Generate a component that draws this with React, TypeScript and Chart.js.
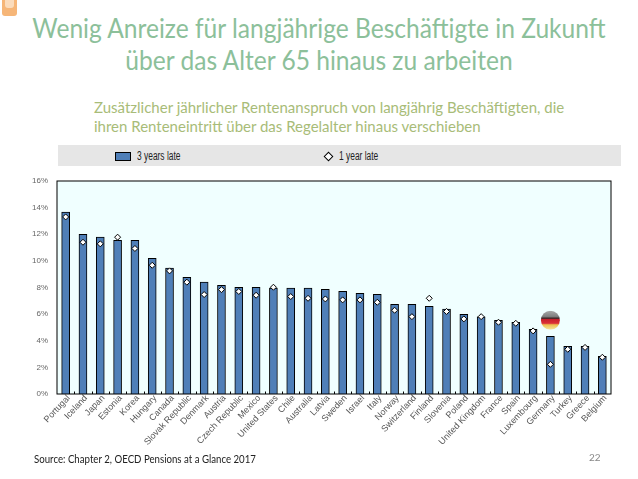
import { useEffect, useRef } from "react";
import Chart from "chart.js/auto";

const countries = [
  "Portugal", "Iceland", "Japan", "Estonia", "Korea", "Hungary", "Canada", "Slovak Republic",
  "Denmark", "Austria", "Czech Republic", "Mexico", "United States", "Chile", "Australia", "Latvia",
  "Sweden", "Israel", "Italy", "Norway", "Switzerland", "Finland", "Slovenia", "Poland",
  "United Kingdom", "France", "Spain", "Luxembourg", "Germany", "Turkey", "Greece", "Belgium",
];
const threeYearsLate = [
  13.66, 12.0, 11.78, 11.55, 11.55, 10.2, 9.45, 8.77,
  8.4, 8.17, 8.02, 8.02, 7.95, 7.95, 7.95, 7.87,
  7.72, 7.57, 7.49, 6.74, 6.74, 6.59, 6.37, 5.99,
  5.79, 5.54, 5.39, 4.86, 4.34, 3.58, 3.58, 2.83,
];
const oneYearLate = [
  13.3, 11.4, 11.28, 11.78, 10.93, 9.67, 9.25, 8.4,
  7.47, 7.84, 7.7, 7.42, 8.02, 7.32, 7.19, 7.14,
  7.07, 7.07, 6.89, 6.29, 5.81, 7.19, 6.2, 5.64,
  5.81, 5.39, 5.31, 4.74, 2.23, 3.36, 3.5, 2.76,
];
const flagCountry = "Germany";
const flagValue = 5.54;

const arial = '"Liberation Sans", sans-serif';
const lato = "Lato, sans-serif";

// small ticks between the categories, a border round the plot and the flag
const extras = {
  id: "extras",
  beforeDatasetsDraw(chart: any) {
    const { ctx, chartArea: a, scales } = chart;
    ctx.save();
    ctx.fillStyle = "#f0ffff";
    ctx.fillRect(a.left, a.top, a.width, a.height);
    const step = a.width / countries.length;
    ctx.strokeStyle = "#000";
    ctx.lineWidth = 1;
    for (let i = 1; i < countries.length; i++) {
      const x = Math.round(scales.x.getPixelForValue(i) - step / 2) + 0.5;
      ctx.beginPath();
      ctx.moveTo(x, a.bottom);
      ctx.lineTo(x, a.bottom - 2.5);
      ctx.stroke();
    }
    ctx.restore();
  },
  afterDatasetsDraw(chart: any) {
    const { ctx, chartArea: a, scales } = chart;
    ctx.save();
    ctx.strokeStyle = "#000";
    ctx.lineWidth = 1;
    ctx.strokeRect(a.left, a.top, a.width, a.height);

    const fx = scales.x.getPixelForValue(countries.indexOf(flagCountry));
    const fy = scales.y.getPixelForValue(flagValue);
    const r = 9.5;
    ctx.beginPath();
    ctx.arc(fx, fy, r, 0, Math.PI * 2);
    ctx.clip();
    const grad = ctx.createLinearGradient(0, fy - r, 0, fy + r);
    grad.addColorStop(0, "#a8a8a8");
    grad.addColorStop(0.3, "#808080");
    grad.addColorStop(0.4, "#3a2a2a");
    grad.addColorStop(0.46, "#c8202c");
    grad.addColorStop(0.66, "#dc3038");
    grad.addColorStop(0.74, "#ecc050");
    grad.addColorStop(1, "#f6e6a0");
    ctx.fillStyle = grad;
    ctx.fillRect(fx - r, fy - r, r * 2, r * 2);
    ctx.restore();
  },
};

function ChartBox() {
  const chartRef = useRef<HTMLCanvasElement>(null);

  useEffect(() => {
    if (!chartRef.current) return;
    const chart = new Chart(chartRef.current, {
      type: "bar",
      data: {
        labels: countries,
        datasets: [
          {
            type: "line",
            label: "1 year late",
            data: oneYearLate,
            showLine: false,
            pointStyle: "rectRot",
            pointRadius: 3,
            pointBackgroundColor: "#fff",
            pointBorderColor: "#000",
            pointBorderWidth: 1,
            order: 0,
          },
          {
            type: "bar",
            label: "3 years late",
            data: threeYearsLate,
            backgroundColor: "#4f7fb8",
            borderColor: "#000",
            borderWidth: 1,
            barThickness: 8,
            order: 1,
          },
        ],
      } as any,
      options: {
        responsive: false,
        animation: false,
        layout: { padding: { left: 0, top: 181, right: 27, bottom: 0 } },
        plugins: { legend: { display: false }, tooltip: { enabled: false } },
        scales: {
          x: {
            offset: true,
            grid: { display: false, drawTicks: false },
            border: { display: false },
            afterFit: (s: any) => { s.height = 85; },
            ticks: {
              autoSkip: false,
              minRotation: 47,
              maxRotation: 47,
              padding: -1,
              labelOffset: 3,
              color: "#555",
              font: { family: arial, size: 9 },
            },
          },
          y: {
            min: 0,
            max: 16,
            grid: { display: false, drawTicks: false },
            border: { display: false },
            afterFit: (s: any) => { s.width = 57; },
            ticks: {
              stepSize: 2,
              padding: 9,
              color: "#666",
              font: { family: arial, size: 8 },
              callback: (v: any) => `${v}%`,
            },
          },
        },
      },
      plugins: [extras],
    });
    return () => chart.destroy();
  }, []);

  return <canvas ref={chartRef} width={638} height={479} style={{ position: "absolute", left: 0, top: 0 }} />;
}

const abs = (left: number, top: number, extra: object = {}) => ({ position: "absolute" as const, left, top, whiteSpace: "nowrap" as const, ...extra });
const squeezed = (k: number) => ({ transform: `scaleX(${k})`, transformOrigin: "left center" });

export default function App() {
  useEffect(() => {
    document.body.style.margin = "0";
  }, []);

  return (
    <div style={{ position: "relative", width: 638, height: 479, overflow: "hidden", background: "#fff" }}>
      <div style={abs(0, 12, { width: 638, textAlign: "center", color: "#8cc09a", fontFamily: lato, fontSize: 26, lineHeight: "32px", transform: "scaleX(0.945)" })}>
        Wenig Anreize für langjährige Beschäftigte in Zukunft
        <br />
        über das Alter 65 hinaus zu arbeiten
      </div>
      <div style={abs(94, 97.5, { color: "#a8bc78", fontFamily: lato, fontSize: 15, lineHeight: "19px" })}>
        Zusätzlicher jährlicher Rentenanspruch von langjährig Beschäftigten, die
        <br />
        ihren Renteneintritt über das Regelalter hinaus verschieben
      </div>
      <div style={abs(58, 145, { width: 563, height: 21, background: "#e6e6e6" })} />
      <div style={abs(115, 152, { width: 14, height: 7, background: "#4f7fb8", border: "1px solid #000" })} />
      <div style={abs(137, 149, { fontFamily: arial, fontSize: 12, color: "#222", lineHeight: "15px", ...squeezed(0.7) })}>3 years late</div>
      <div style={abs(325, 153, { width: 5, height: 5, background: "#fff", border: "1px solid #000", transform: "rotate(45deg)" })} />
      <div style={abs(339, 149, { fontFamily: arial, fontSize: 12, color: "#222", lineHeight: "15px", ...squeezed(0.7) })}>1 year late</div>
      <div style={abs(2, 0, { width: 15, height: 16, background: "#f6b678", borderRadius: "0 0 3px 3px" })} />
      <div style={abs(5, 0, { width: 9, height: 8, background: "#fbdcbc", borderRadius: "0 0 3px 3px" })} />
      <ChartBox />
      <div style={abs(34, 451, { color: "#222", fontFamily: lato, fontSize: 10.5, lineHeight: "16px", ...squeezed(0.92) })}>
        Source: Chapter 2, OECD Pensions at a Glance 2017
      </div>
      <div style={abs(589, 449, { color: "#888", fontFamily: lato, fontSize: 10, lineHeight: "16px" })}>22</div>
    </div>
  );
}
